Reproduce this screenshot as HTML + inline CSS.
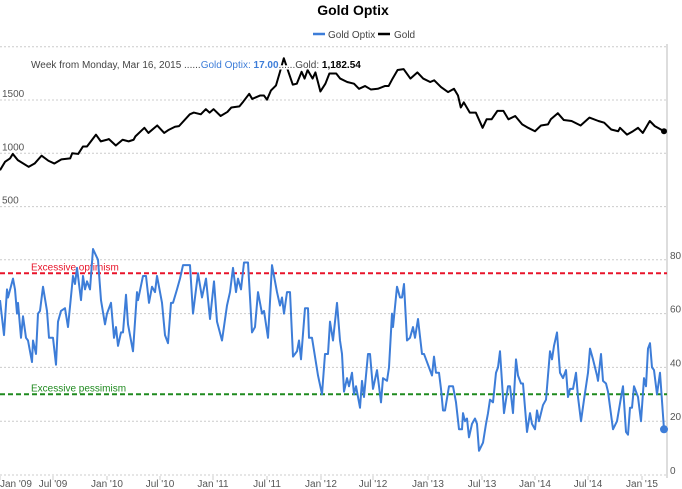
<!DOCTYPE html>
<html><head><meta charset="utf-8"><style>
html,body{margin:0;padding:0;background:#fff;}
svg{display:block;font-family:"Liberation Sans",Arial,sans-serif;}
</style></head><body>
<svg id="chart" width="682" height="489">
<text x="353" y="15" text-anchor="middle" font-size="14" font-weight="bold" fill="#000">Gold Optix</text>
<g>
 <g><line x1="313" y1="34" x2="325" y2="34" stroke="#3d7dd8" stroke-width="2.5"/><text x="328" y="38" font-size="10" fill="#444">Gold Optix</text></g>
 <g><line x1="378" y1="34" x2="390" y2="34" stroke="#000" stroke-width="2.5"/><text x="394" y="38" font-size="10" fill="#444">Gold</text></g>
</g>
<g id="grid"></g>
<g id="axes"></g>
<g id="series"></g>
<g font-size="10" style="paint-order:stroke" stroke="#fff" stroke-width="3">
<text x="31" y="68"><tspan fill="#444">Week from Monday, Mar 16, 2015 ......</tspan><tspan fill="#3d7dd8">Gold Optix: </tspan><tspan fill="#3d7dd8" font-weight="bold">17.00</tspan><tspan fill="#444">......Gold: </tspan><tspan fill="#000" font-weight="bold">1,182.54</tspan></text>
</g>
</svg>
<script>
// weeks since first Monday of 2009
const optixWeeks=[-7,-5,-3.5,-3,-0.5,0.5,1.5,2,3.5,4.5,6,7,9,9.5,11,12,13,14.5,16.5,17.5,19.5,21,22,23.5,25.5,27,29.5,30.5,31.5,33.5,34.5,35.5,36.5,38,39.5,42,43.5,45.5,46.5,48.5,50,51,52,53.5,54.5,56,57,59.5,61.5,62,64.5,66,67.5,69,70.5,71.5,74,75.5,77,78.5,79.5,81.5,83,84.5,88,89.5,92,94,96,98,100,101.5,104,106.5,108,109.5,111,112,113.5,115,117,119,120.5,122,124,125,127,129,131.5,133,134,135,136.5,138,139.5,141.5,142.5,143.5,145.5,147,147.5,149,152,154,155.5,157,158,159.5,161.5,163,164,165,166.5,167.5,169,170,171,173,174,175,177,178,179.5,181.5,183.5,184.5,186.5,187.5,189,189.5,191.5,193,194,195,196.5,198,199.5,200.5,202,204,205,209,210,211,212.5,213.5,214.5,215.5,217.5,219.5,221,222.5,224,224.5,225.5,226.5,227.5,229,230.5,231.5,232.5,234.5,236,237,238,239.5,241,242,243,245,247,248,249.5,251,252,253.5,254.5,256.5,258,259,260.5,261.5,262.5,264.5,266,268,269,270,271.5,273,274.5,276,277,278,279.5,281,282,283.5,285,287,288,289.5,291.5,292,293.5,294.5,296,297,299.5,301.5,304,304.5,306,307,308,309,310,312,313.5,315,316,317,318,319,320,321.5,323,325];
const optixValues=[65,52,69,66,73,69,60,64,51,59,51,50,42,50,45,60,61,70,61,51,51,41,57,61,62,55,74,71,77,65,74,69,72,69,84,80,65,56,60,64,51,55,48,53,53,67,56,46,68,65,74,74,64,70,68,74,64,52,49,64,64,69,73,78,78,60,75,66,73,58,72,57,50,63,68,77,68,73,69,79,79,53,55,68,60,61,51,78,68,63,66,60,68,68,44,46,50,43,62,62,51,51,37,30,45,45,57,50,64,50,45,31,36,33,38,30,33,25,35,29,45,45,32,39,27,36,35,40,60,55,70,66,66,71,50,51,55,51,58,45,45,37,44,38,38,32,24,24,33,33,27,17,17,23,20,21,14,19,21,19,9,12,19,23,28,27,38,40,46,23,33,33,23,43,37,34,34,16,23,19,17,24,20,26,28,46,43,48,53,38,36,39,29,32,32,38,29,20,28,38,47,43,37,35,45,35,34,31,17,20,31,33,16,15,25,25,33,29,20,36,33,47,49,40,39,30,38,17];
const goldWeeks=[-7,-4.5,-2,-0.6,1.9,7.3,10.3,13.8,17.2,20.2,23.7,28.1,29.1,32.1,34.5,36.5,41,43.4,46.4,47.4,50.9,54.3,57.3,59.8,60.7,65.2,67.2,71.6,75.1,77.1,80.5,82.5,87.9,89.9,93.4,95.9,97.8,99.8,103.3,106.7,108.7,112.7,114.6,117.6,119.1,123,125,126.5,128.5,131,133,134.9,136.9,139.4,141.4,143.8,145.3,146.8,149.3,150.7,153.2,155.7,157.7,161.1,163.1,166.6,170,172.5,175.5,178.4,181.9,185.4,187.3,189.3,191.8,194.8,198.2,201.7,204.6,208.1,210.1,213.5,217,220,222,223.4,224.9,227.9,230.9,234.3,236.3,238.8,241.7,244.7,247.2,250.6,254.1,257.1,260.5,263.5,267,268.4,271.9,274.9,278.8,283.3,287.7,292.2,295.1,298.6,302.1,303,306.5,309.5,312,314.4,317.9,320.4,325];
const goldValues=[841,920,952,994,936,873,904,978,930,904,943,952,1000,994,1064,1064,1175,1112,1127,1134,1073,1127,1112,1127,1159,1239,1191,1261,1191,1217,1249,1255,1366,1382,1366,1414,1382,1414,1350,1388,1430,1440,1484,1558,1510,1542,1542,1503,1590,1637,1765,1892,1781,1644,1653,1765,1701,1781,1701,1759,1580,1653,1749,1749,1701,1669,1653,1605,1631,1599,1605,1631,1631,1701,1781,1790,1701,1759,1701,1669,1685,1621,1574,1605,1542,1430,1478,1382,1382,1239,1319,1319,1398,1398,1319,1350,1271,1239,1207,1261,1271,1319,1376,1312,1303,1261,1335,1303,1287,1223,1207,1239,1175,1207,1239,1191,1303,1255,1207,1182];
const tickWeeks=[-7,19.5,46.5,73,99.5,126.5,153.5,179.5,207,234,260.5,287,314];
const tickLabels=["Jan '09","Jul '09","Jan '10","Jul '10","Jan '11","Jul '11","Jan '12","Jul '12","Jan '13","Jul '13","Jan '14","Jul '14","Jan '15"];
const goldTicks=[500,1000,1500,2000];
const optixTicks=[0,20,40,60,80];
const refValues=[75,30];
const refLabels=["Excessive optimism","Excessive pessimism"];

const NS="http://www.w3.org/2000/svg";
const xS=w=>14+w*2;
const yG=v=>153.3-(v-1000)*0.1066;
const yO=v=>475-v*2.69;
function mk(tag,attrs,parent){const e=document.createElementNS(NS,tag);for(const k in attrs)e.setAttribute(k,attrs[k]);parent.appendChild(e);return e;}
const grid=document.getElementById('grid'),axes=document.getElementById('axes'),series=document.getElementById('series');

goldTicks.forEach(v=>{
 const y=yG(v);
 const l=mk('line',{x1:0,x2:667,y1:y,y2:y,stroke:'#ccc','stroke-dasharray':'2,2'},grid);
 
 
 if(v<2000){const t=mk('text',{x:2,y:y-3,'font-size':10,fill:'#555'},axes);t.textContent=v;
 
 }
});
optixTicks.forEach(v=>{
 const y=yO(v);
 const l=mk('line',{x1:0,x2:667,y1:y,y2:y,stroke:'#ccc','stroke-dasharray':'2,2'},grid);
 
 
 const t=mk('text',{x:670,y:y-1,'font-size':10,fill:'#555'},axes);t.textContent=v;
 
 
});
const vb=mk('line',{x1:667,x2:667,y1:44,y2:478,stroke:'#bbb'},axes);


tickWeeks.forEach((w,i)=>{
 const x=xS(w);
 const tk=mk('line',{x1:x,x2:x,y1:476,y2:480,stroke:'#ccc'},axes);
 
 
 const t=mk('text',{x:i===0?0:x,y:487,'font-size':10,fill:'#555','text-anchor':i===0?'start':'middle'},axes);
 t.textContent=tickLabels[i];
 
 
});
const refColors=['#e8142a','#1f8a1f'];
refValues.forEach((v,i)=>{
 const y=yO(v);
 const l=mk('line',{x1:0,x2:667,y1:y,y2:y,stroke:refColors[i],'stroke-width':2,'stroke-dasharray':'5,3'},series);
 
 
 const t=mk('text',{x:31,y:y-3,'font-size':10,fill:refColors[i]},series);t.textContent=refLabels[i];
 
 
});
const gp=mk('polyline',{points:goldWeeks.map((w,i)=>xS(w)+','+yG(goldValues[i])).join(' '),fill:'none',stroke:'#000','stroke-width':2,'stroke-linejoin':'round'},series);


const op=mk('polyline',{points:optixWeeks.map((w,i)=>xS(w)+','+yO(optixValues[i])).join(' '),fill:'none',stroke:'#3d7dd8','stroke-width':2,'stroke-linejoin':'round'},series);


const li=optixWeeks.length-1;
const dot=mk('circle',{cx:xS(optixWeeks[li]),cy:yO(optixValues[li]),r:4,fill:'#3d7dd8'},series);


const gi=goldWeeks.length-1;
const gm=mk('circle',{cx:xS(goldWeeks[gi]),cy:yG(goldValues[gi]),r:3,fill:'#000'},series);


</script>
</body></html>
